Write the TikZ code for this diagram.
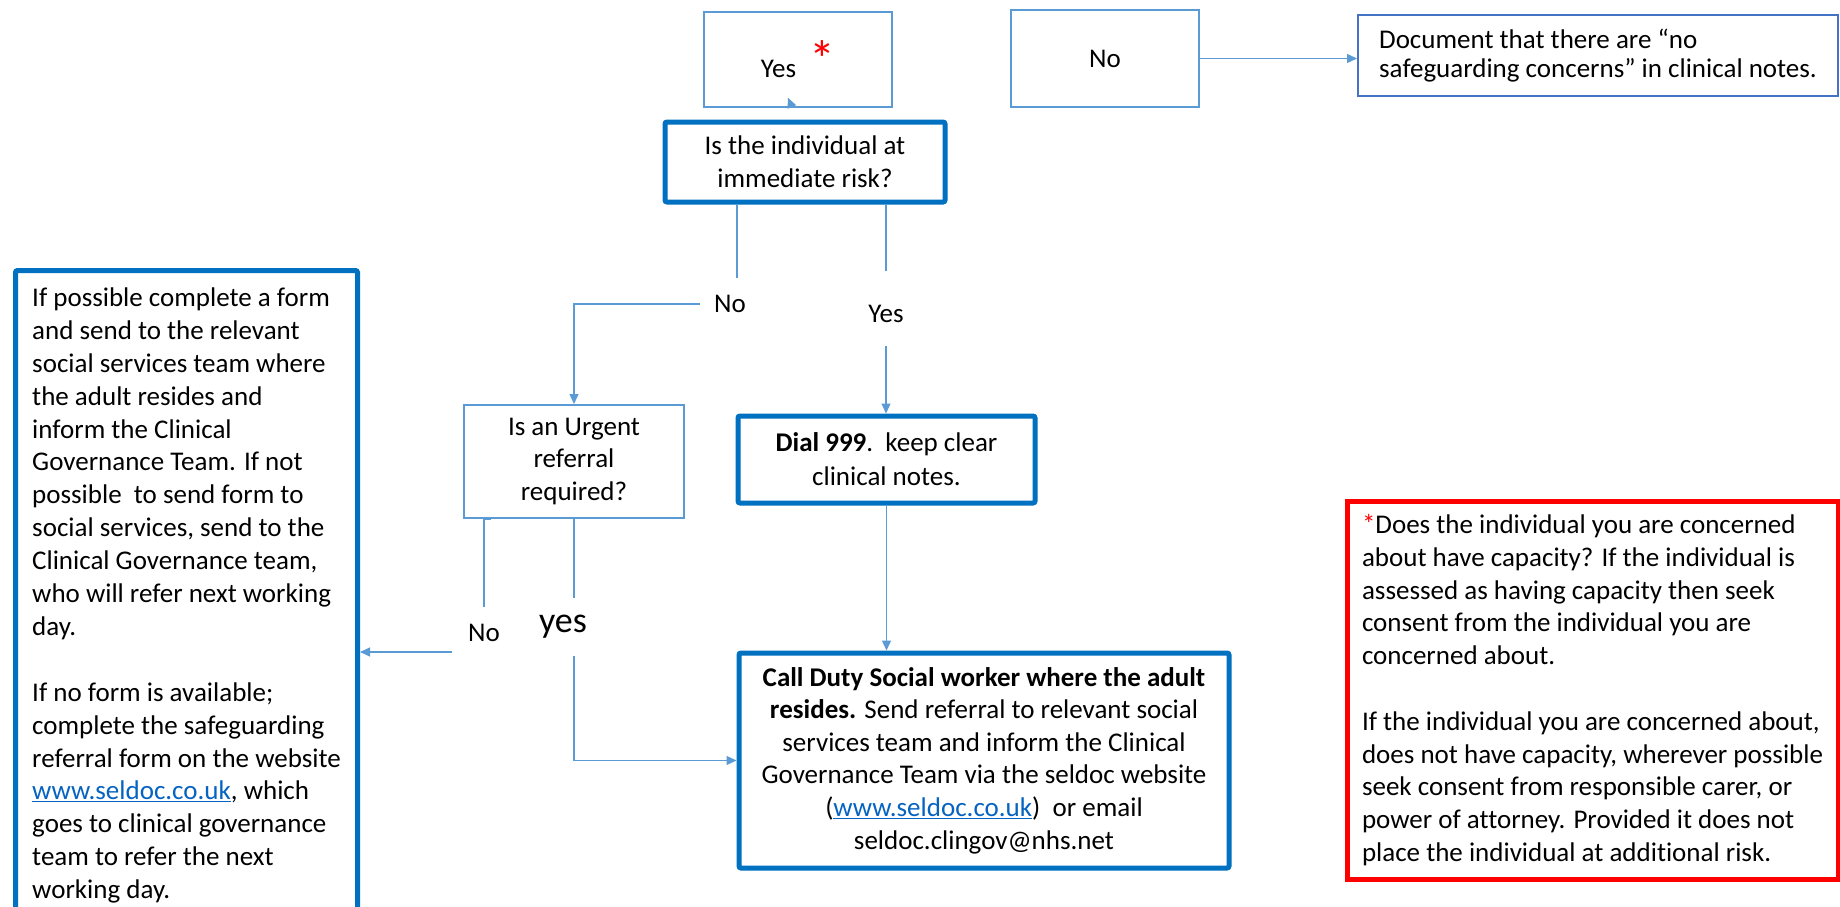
\documentclass[tikz,border=0pt]{standalone}
\usepackage{fontspec}
\setmainfont{Carlito}[Ligatures=NoCommon]
\usetikzlibrary{arrows.meta}
\definecolor{thinblue}{HTML}{5B9BD5}
\definecolor{thickblue}{HTML}{0070C0}
\definecolor{docblue}{HTML}{4472C4}
\definecolor{linkblue}{HTML}{0563C1}
\newcommand{\fsz}[2]{\fontsize{#1}{#2}\selectfont}
\newcommand{\weblink}[1]{{\color{linkblue}\underline{#1}}}
\begin{document}
\begin{tikzpicture}[x=1pt,y=-1pt,
  thinbox/.style={draw=thinblue, line width=1.5pt, inner sep=0pt},
  thickbox/.style={draw=thickblue, line width=5pt, rounded corners=2pt, inner sep=0pt},
  lbl/.style={inner sep=0pt, font=\fsz{27}{32}},
  line/.style={draw=thinblue, line width=1.3pt},
  conn/.style={line, -{Triangle[length=10pt,width=9pt]}},
]
\useasboundingbox (0,0) rectangle (1840,907);
\clip (0,0) rectangle (1840,907);
\fill[white] (0,0) rectangle (1840,907);

% top row
\node[thinbox, minimum width=188pt, minimum height=95pt, font=\fsz{27}{32}] (yes) at (798,59.5)
  {Yes\hspace{13pt}{\color{red}\fsz{52}{52}*}};
\node[thinbox, minimum width=188pt, minimum height=97pt, font=\fsz{27}{32}] (no) at (1105,58.5) {No};
\node[draw=docblue, line width=2pt, minimum width=480pt, minimum height=81pt, inner sep=0pt,
  align=left, font=\fsz{27}{29}] (doc) at (1598,55.5)
  {Document that there are “no\\ safeguarding concerns” in clinical notes.};

% question
\node[thickbox, minimum width=280pt, minimum height=80pt, align=center, font=\fsz{27}{33}] (q) at (805,162)
  {Is the individual at\\ immediate risk?};

\node[lbl, minimum height=52pt] (nomid) at (730,304) {No};
\node[lbl, minimum height=64pt] (yesmid) at (886,314) {Yes};

\node[thinbox, line width=2pt, minimum width=220pt, minimum height=113pt, align=center,
  font=\fsz{27}{32.5}] (urg) at (574,461.5) {Is an Urgent\\ referral\\ required?};

\node[thickbox, minimum width=297pt, minimum height=87pt, align=center, font=\fsz{27}{34}] (dial) at (886.5,459.5)
  {\textbf{Dial 999}.\ \ keep clear\\ clinical notes.};

\node[thickbox, minimum width=490pt, minimum height=215pt, align=center, font=\fsz{27}{32.6}] (call) at (984,760.5)
  {\textbf{Call Duty Social worker where the adult}\\
   \textbf{resides.} Send referral to relevant social\\
   services team and inform the Clinical\\
   Governance Team via the seldoc website\\
   (\weblink{www.seldoc.co.uk})\ \ or email\\
   seldoc.clingov@nhs.net};

\node[thickbox, minimum width=342pt, minimum height=650pt, align=left, font=\fsz{27}{32.9}, anchor=north west] (left) at (13,268)
  {If possible complete a form\\
   and send to the relevant\\
   social services team where\\
   the adult resides and\\
   inform the Clinical\\
   Governance Team. If not\\
   possible\ \ to send form to\\
   social services, send to the\\
   Clinical Governance team,\\
   who will refer next working\\
   day.\\
   \mbox{}\\
   If no form is available;\\
   complete the safeguarding\\
   referral form on the website\\
   \weblink{www.seldoc.co.uk}, which\\
   goes to clinical governance\\
   team to refer the next\\
   working day.};

\node[draw=red, line width=5pt, minimum width=491pt, minimum height=378pt, inner sep=0pt, align=left,
  font=\fsz{27}{32.8}] (red) at (1592.5,690)
  {{\color{red}*}Does the individual you are concerned\\
   about have capacity? If the individual is\\
   assessed as having capacity then seek\\
   consent from the individual you are\\
   concerned about.\\
   \mbox{}\\
   If the individual you are concerned about,\\
   does not have capacity, wherever possible\\
   seek consent from responsible carer, or\\
   power of attorney. Provided it does not\\
   place the individual at additional risk.};

\node[lbl, minimum height=52pt] (nobot) at (484,633) {No};
\node[lbl, font=\fsz{36}{40}, minimum height=58pt] (yesbot) at (563,627) {yes};
\coordinate (nobotend) at (452,652);
\coordinate (nomidstart) at ([xshift=-14pt]nomid.west);

% connectors
\draw[conn, shorten <=16pt] ([xshift=-8pt]q.north) -- ([xshift=-10pt,yshift=10pt]yes.south);
\draw[conn] (no.east) -- (no.east -| doc.west);
\draw[line] ([xshift=-68pt]q.south) -- ([xshift=-68pt]q.south |- nomid.north);
\draw[conn] (nomidstart) -- (urg.north |- nomidstart) -- (urg.north);
\draw[line] ([xshift=81pt]q.south) -- ([yshift=11pt]yesmid.north);
\draw[conn] (yesmid.south) -- (yesmid.south |- dial.north);
\draw[conn] (dial.south) -- (dial.south |- call.north);
\draw[line] ([xshift=-83pt]urg.south) -- ([xshift=-90pt]urg.south) -- (nobot.north);
\draw[conn] (nobotend) -- (nobotend -| left.east);
\draw[line] (urg.south) -- (urg.south |- yesbot.north);
\draw[conn] (urg.south |- yesbot.south) |- (call.west);
\end{tikzpicture}
\end{document}
